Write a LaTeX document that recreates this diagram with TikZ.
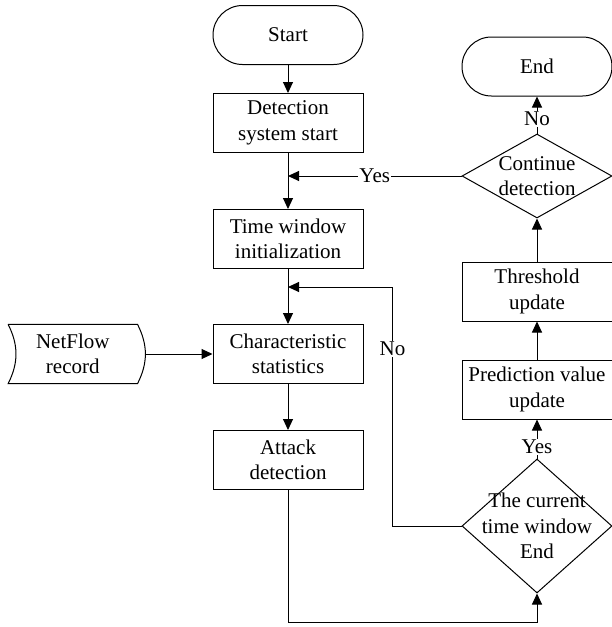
\documentclass[tikz,border=0pt]{standalone}
\usepackage{fontspec}
\setmainfont{Liberation Serif}
\usetikzlibrary{positioning, shapes.geometric, arrows.meta}
\newcommand{\flowfont}{\rmfamily\fontsize{21}{25.5}\selectfont}

\begin{document}
\begin{tikzpicture}[
    box/.style={draw, line width=1pt, minimum width=150pt, minimum height=59pt, inner sep=2pt, align=center, font=\flowfont},
    term/.style={box, rounded corners=29.5pt},
    decision/.style={draw, line width=1pt, diamond, inner sep=0pt, minimum width=150pt},
    flowtext/.style={align=center, font=\flowfont, inner sep=0pt},
    lbl/.style={font=\flowfont, fill=white, inner sep=1pt},
    flow/.style={line width=1pt, -{Triangle[length=11pt, width=10pt]}},
    node distance=28pt
  ]
    \useasboundingbox (0pt,0pt) rectangle (612pt,-627pt);

    % Main column
    \node[term] (start) at (288pt,-35pt) {Start};
    \node[box, below=28pt of start] (detect) {Detection\\system start};
    \node[box, below=56pt of detect] (twin) {Time window\\initialization};
    \node[box, below=55pt of twin] (charst) {Characteristic\\statistics};
    \node[box, below=46pt of charst] (attack) {Attack\\detection};

    % NetFlow input
    \node[flowtext, minimum width=129pt, minimum height=59pt, left=75pt of charst] (netflow) {NetFlow\\record};
    \draw[line width=1pt] (netflow.north west) -- (netflow.north east)
      to[bend left=27] (netflow.south east) -- (netflow.south west)
      to[bend right=27] (netflow.north west);
    \coordinate (nfout) at ([xshift=8pt]netflow.east);

    % Right column
    \node[term] (end) at (537pt,-66.5pt) {End};
    \node[decision, minimum height=84pt, below=37pt of end] (cont) {};
    \node[flowtext] (contlbl) at (cont) {Continue\\detection};
    \node[box, below=43pt of cont] (thr) {Threshold\\update};
    \node[box, below=38pt of thr] (pred) {Prediction value\\update};
    \node[decision, minimum height=134pt, below=39pt of pred] (tcur) {};
    \node[flowtext] (tcurlbl) at (tcur) {The current\\time window\\End};

    % Connectors
    \draw[flow] (start) -- (detect);
    \draw[flow] (detect) -- (twin);
    \draw[flow] (twin) -- (charst);
    \draw[flow] (charst) -- (attack);
    \draw[flow] (nfout) -- (charst);

    \coordinate (yesin) at (detect.south |- cont.west);
    \draw[flow] (cont.west) -- node[lbl] {Yes} (yesin);

    \coordinate (noin) at ([yshift=-18pt]twin.south);
    \draw[flow] (tcur.west) -- ++(-69pt,0) |- node[lbl, pos=0.37] {No} (noin);

    \coordinate (botline) at (0pt,-622pt);
    \draw[flow] (attack.south) -- (attack.south |- botline) -| (tcur.south);

    \draw[flow] (tcur) -- node[lbl, pos=0.3] {Yes} (pred);
    \draw[flow] (pred) -- (thr);
    \draw[flow] (thr) -- (cont);
    \draw[flow] (cont) -- node[lbl, pos=0.4] {No} (end);
  \end{tikzpicture}
\end{document}
